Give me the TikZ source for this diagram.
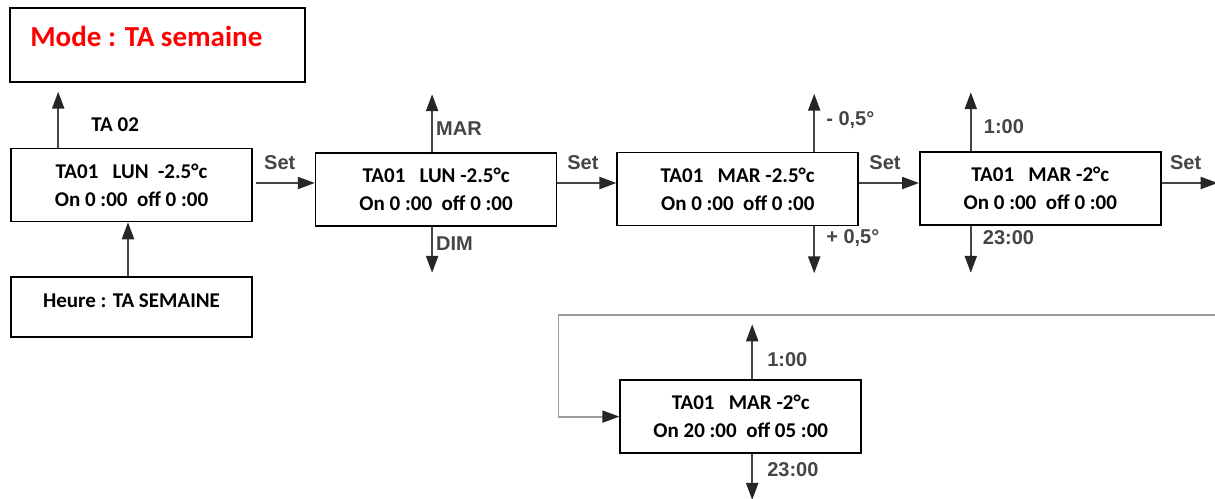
\documentclass[tikz,border=0pt]{standalone}
\usepackage{fontspec}
\setmainfont{Carlito}
\newfontfamily\touchefont{Liberation Sans}
\usepackage{xcolor}
\usetikzlibrary{arrows.meta, positioning}
\definecolor{gristrait}{HTML}{454545}
\definecolor{grisclair}{HTML}{9C9C9C}
\definecolor{grispale}{HTML}{E4E4E4}

\begin{document}
\begin{tikzpicture}[
  ecran/.style={draw, line width=1.6pt, align=center, minimum width=241pt,
               minimum height=73pt, inner sep=0pt,
               font=\fontsize{21}{28}\selectfont\bfseries},
  cadre/.style={ecran, minimum width=295pt, minimum height=74pt},
  heurebox/.style={ecran, minimum height=60pt, text depth=12pt},
  titre/.style={inner sep=0pt, text=red, font=\fontsize{29}{34}\selectfont\bfseries},
  texte/.style={inner sep=0pt, font=\fontsize{21}{28}\selectfont\bfseries},
  touche/.style={inner sep=0pt, text=gristrait,
                 font=\touchefont\fontsize{20}{24}\selectfont\bfseries},
  fleche/.style={-{Triangle[length=17pt, width=12pt, color=black!85]},
                 line width=2.2pt, draw=gristrait},
  boucle/.style={-{Triangle[length=17pt, width=12pt, color=black!85]},
                 line width=1.8pt, draw=grisclair}
]
\useasboundingbox (0,0) rectangle (1215pt,-498pt);

\node[ecran] (lun1) at (131.5pt,-185pt) {TA01\ \ \ LUN\ \ -2.5°c\\On 0 :00\ \ off 0 :00};
\node[cadre, above=65pt of lun1.north west, anchor=south west, xshift=-1pt] (mode) {};
\node[titre, anchor=west] (modetxt) at ([xshift=21pt, yshift=-29pt]mode.north west) {Mode : TA semaine};
\node[heurebox, below=54pt of lun1] (heure) {Heure : TA SEMAINE};
\node[texte, anchor=west] (ta02) at ([xshift=81pt, yshift=23pt]lun1.north west) {TA 02};

\node[ecran, right=62pt of lun1, yshift=-4.5pt] (lun2) {TA01\ \ \ LUN -2.5°c\\On 0 :00\ \ off 0 :00};
\node[ecran, right=59pt of lun2, yshift=0.5pt] (mar1) {TA01\ \ \ MAR -2.5°c\\On 0 :00\ \ off 0 :00};
\node[ecran, right=60pt of mar1, yshift=0.5pt] (mar2) {TA01\ \ \ MAR -2°c\\On 0 :00\ \ off 0 :00};
\node[ecran, below=153pt of mar1, xshift=3pt] (mar3) {TA01\ \ \ MAR -2°c\\On 20 :00\ \ off 05 :00};

\coordinate (lun2h) at ([xshift=-4pt, yshift=58pt]lun2.north);
\coordinate (lun2b) at ([xshift=-4pt, yshift=-46pt]lun2.south);
\coordinate (mar1h) at ([xshift=76.5pt, yshift=58pt]mar1.north);
\coordinate (mar1b) at ([xshift=76.5pt, yshift=-47pt]mar1.south);
\coordinate (mar2h) at ([xshift=-69.5pt, yshift=59pt]mar2.north);
\coordinate (mar2b) at ([xshift=-69.5pt, yshift=-47pt]mar2.south);
\coordinate (mar3h) at ([xshift=11.5pt, yshift=55pt]mar3.north);
\coordinate (mar3b) at ([xshift=11.5pt, yshift=-46pt]mar3.south);
\coordinate[right=56pt of mar2.east, yshift=5.5pt] (sortie);
\coordinate (coude) at ([xshift=-61pt, yshift=64pt]mar3.north west);
\coordinate (angle) at (sortie |- coude);

\draw[fleche, shorten >=9pt] ([xshift=48pt]lun1.north west) -- ([xshift=48pt]lun1.north west |- mode.south);
\draw[fleche] ([xshift=-3.5pt]heure.north) -- ([xshift=-3.5pt]lun1.south);

\draw[fleche, shorten <=3pt] ([yshift=2pt]lun1.east) -- node[touche, above=12pt, xshift=-4pt] (set1) {Set} ([yshift=6.5pt]lun2.west);
\draw[fleche] ([yshift=6.5pt]lun2.east) -- node[touche, above=12pt, xshift=-4pt] (set2) {Set} ([yshift=6pt]mar1.west);
\draw[fleche] ([yshift=6pt]mar1.east) -- node[touche, above=12pt, xshift=-4pt] (set3) {Set} ([yshift=5.5pt]mar2.west);
\draw[fleche] ([yshift=5.5pt]mar2.east) -- node[touche, above=12pt, xshift=-4pt] (set4) {Set} (sortie);
\draw[line width=1.8pt, draw=grispale] (sortie) -- (angle);
\draw[boucle] (angle) -- (coude) |- (mar3.west);

\draw[fleche] ([xshift=-4pt]lun2.north) -- node[touche, pos=0.41, right=3pt] (mar) {MAR} (lun2h);
\draw[fleche] ([xshift=-4pt]lun2.south) -- node[touche, pos=0.37, right=3pt] (dim) {DIM} (lun2b);
\draw[fleche] ([xshift=76.5pt]mar1.north) -- node[touche, pos=0.55, right=11pt] (moins) {- 0,5°} (mar1h);
\draw[fleche] ([xshift=76.5pt]mar1.south) -- node[touche, pos=0.26, right=11pt] (plus) {+ 0,5°} (mar1b);
\draw[fleche] ([xshift=-69.5pt]mar2.north) -- node[touche, pos=0.41, right=12pt] (haut2) {1:00} (mar2h);
\draw[fleche] ([xshift=-69.5pt]mar2.south) -- node[touche, pos=0.26, right=11pt] (bas2) {23:00} (mar2b);
\draw[fleche] ([xshift=11.5pt]mar3.north) -- node[touche, pos=0.35, right=14pt] (haut3) {1:00} (mar3h);
\draw[fleche] ([xshift=11.5pt]mar3.south) -- node[touche, pos=0.35, right=14pt] (bas3) {23:00} (mar3b);
\end{tikzpicture}
\end{document}
